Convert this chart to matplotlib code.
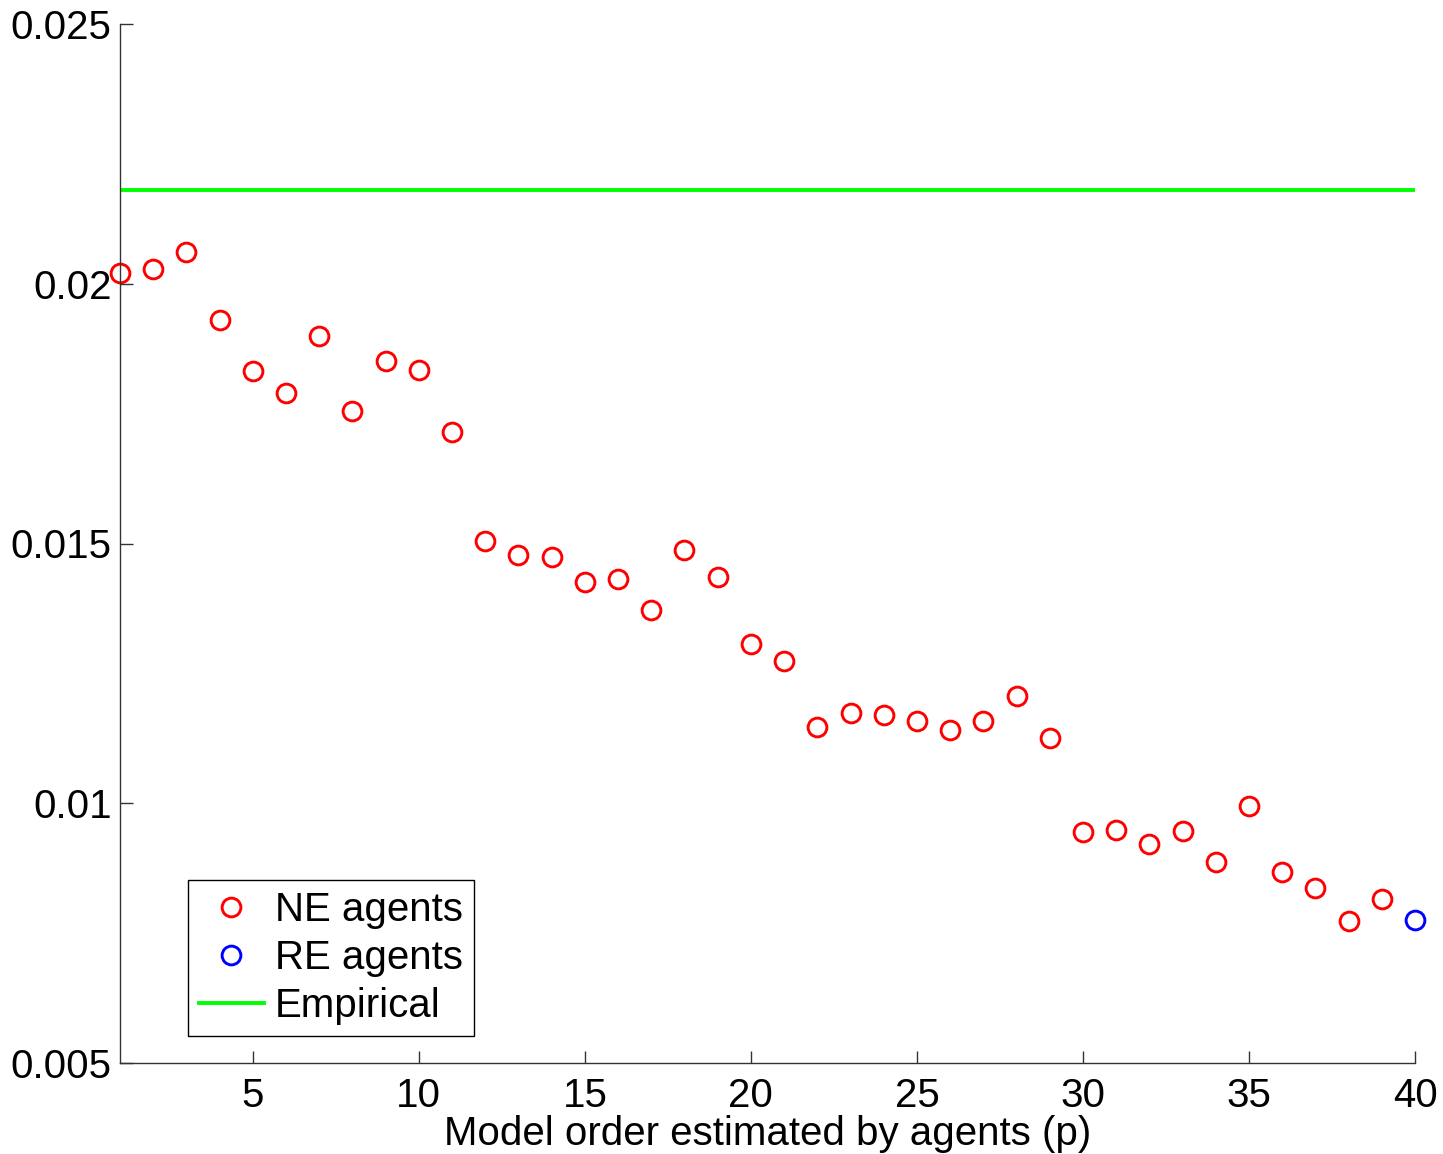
import numpy as np
import matplotlib.pyplot as plt

plt.rcParams['font.family'] = ['Liberation Sans', 'DejaVu Sans']

p_ne = list(range(1, 40))
ne_vals = [0.02021, 0.02028, 0.02061, 0.01930, 0.01832, 0.01790, 0.01899, 0.01755,
           0.01851, 0.01834, 0.01715, 0.01505, 0.01478, 0.01474, 0.01426, 0.01432,
           0.01372, 0.01488, 0.01436, 0.01307, 0.01274, 0.01147, 0.01174, 0.01170,
           0.01158, 0.01141, 0.01158, 0.01206, 0.01126, 0.00945, 0.00948, 0.00922,
           0.00947, 0.00887, 0.00995, 0.00868, 0.00837, 0.00773, 0.00816]
p_re = [40]
re_vals = [0.00775]
empirical = 0.02180

xticks = [5, 10, 15, 20, 25, 30, 35, 40]
yticks = [0.005, 0.01, 0.015, 0.02, 0.025]
yticklabels = ['0.005', '0.01', '0.015', '0.02', '0.025']

fig = plt.figure(figsize=(14.43, 11.54), dpi=100)
ax = fig.add_axes([120 / 1443, 91 / 1154, 1295 / 1443, 1039 / 1154])

ax.plot(p_ne, ne_vals, 'o', color='red', markerfacecolor='none',
        markersize=13.5, markeredgewidth=2.1, label='NE agents', clip_on=False)
ax.plot(p_re, re_vals, 'o', color='blue', markerfacecolor='none',
        markersize=13.5, markeredgewidth=2.1, label='RE agents', clip_on=False)
ax.plot([1, 40], [empirical, empirical], color='#00ff00', linewidth=2.8,
        label='Empirical')

ax.set_xlim(1, 40)
ax.set_ylim(0.005, 0.025)
ax.set_xticks(xticks)
ax.set_yticks(yticks)
ax.set_yticklabels(yticklabels)
ax.tick_params(direction='in', length=9, width=1, labelsize=29, color='#333333')
ax.tick_params(axis='x', pad=10)
ax.tick_params(axis='y', pad=6)
for s in ['top', 'right']:
    ax.spines[s].set_visible(False)
for s in ['left', 'bottom']:
    ax.spines[s].set_linewidth(1)
    ax.spines[s].set_color('#333333')

ax.set_xlabel('Model order estimated by agents (p)', fontsize=29, labelpad=0)

leg = ax.legend(loc='lower left', bbox_to_anchor=(188 / 1443, 118 / 1154),
                bbox_transform=fig.transFigure, borderaxespad=0, fontsize=29,
                fancybox=False, edgecolor='black', framealpha=1,
                handlelength=1.6, handletextpad=0.28, labelspacing=0.24,
                borderpad=0.28, numpoints=1)
leg.get_frame().set_linewidth(1)

plt.savefig('out.png', dpi=100)
